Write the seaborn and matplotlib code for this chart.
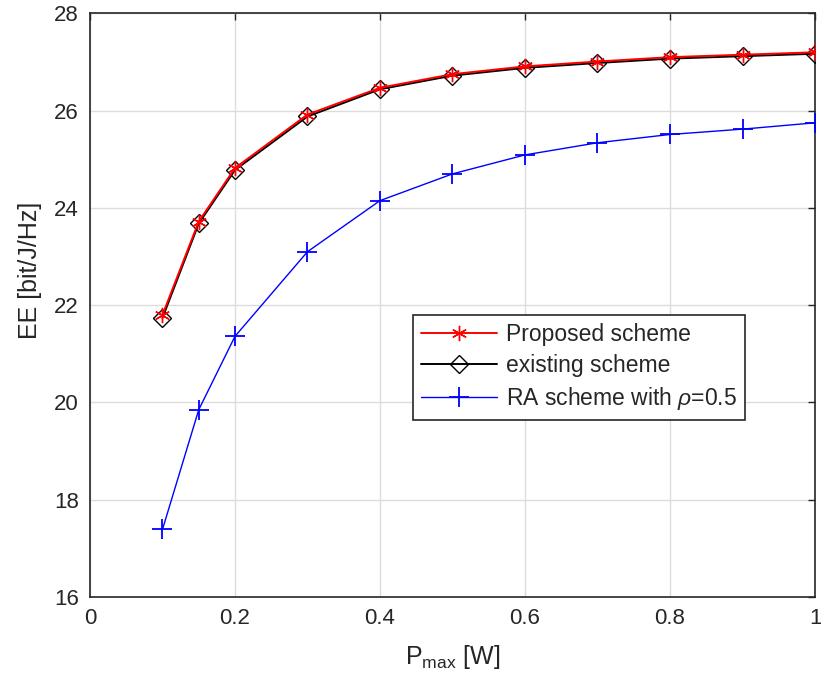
import matplotlib
matplotlib.use("Agg")
import matplotlib.pyplot as plt
import seaborn as sns

# transmit power budget [W]
p_max = [0.1, 0.15, 0.2, 0.3, 0.4, 0.5, 0.6, 0.7, 0.8, 0.9, 1.0]

# energy efficiency [bit/J/Hz]
ee_proposed = [21.80, 23.72, 24.82, 25.92, 26.47, 26.75, 26.91, 27.01, 27.10, 27.15, 27.20]
ee_existing = [21.74, 23.68, 24.78, 25.88, 26.44, 26.72, 26.88, 26.98, 27.07, 27.12, 27.17]
ee_ra = [17.39, 19.85, 21.36, 23.10, 24.15, 24.70, 25.09, 25.34, 25.51, 25.62, 25.75]

sns.set_style("white")
plt.rcParams['font.family'] = ['Liberation Sans', 'DejaVu Sans']
plt.rcParams['mathtext.fontset'] = 'custom'
plt.rcParams['mathtext.rm'] = 'Liberation Sans'
plt.rcParams['mathtext.it'] = 'Liberation Sans:italic'

fig = plt.figure(figsize=(8.21, 6.86), dpi=100)
ax = fig.add_axes([0.1096, 0.1297, 0.8831, 0.8508])

sns.lineplot(x=p_max, y=ee_existing, ax=ax, color='black', lw=1.4,
             marker='D', markersize=9, markerfacecolor='none',
             markeredgecolor='black', markeredgewidth=1.0,
             label='existing scheme', zorder=3)
sns.lineplot(x=p_max, y=ee_proposed, ax=ax, color='red', lw=1.4,
             marker=(6, 2, 0), markersize=11, markerfacecolor='red',
             markeredgecolor='red', markeredgewidth=1.0,
             label='Proposed scheme', zorder=4)
sns.lineplot(x=p_max, y=ee_ra, ax=ax, color='blue', lw=1.0,
             marker='+', markersize=15, markeredgewidth=1.3,
             markeredgecolor='blue',
             label=r'RA scheme with $\rho$=0.5', zorder=3)

ax.set_xlim(0, 1)
ax.set_ylim(16, 28)
ax.set_xticks([0, 0.2, 0.4, 0.6, 0.8, 1])
ax.set_xticklabels(['0', '0.2', '0.4', '0.6', '0.8', '1'])
ax.set_yticks(range(16, 29, 2))

ax.grid(True, color='#dcdcdc', lw=1.0)
ax.set_axisbelow(True)
for s in ax.spines.values():
    s.set_color('#262626')
    s.set_linewidth(1.2)
ax.tick_params(direction='in', top=True, right=True, length=5, width=1,
               color='#262626', labelsize=16, labelcolor='#262626', pad=8)

ax.set_xlabel(r'P$_{\mathrm{max}}$ [W]', fontsize=18, color='#262626', labelpad=10)
ax.set_ylabel('EE [bit/J/Hz]', fontsize=18, color='#262626', labelpad=10)
ax.yaxis.set_label_coords(-0.066, 0.56)

handles, labels = ax.get_legend_handles_labels()
order = [1, 0, 2]
leg = ax.legend([handles[i] for i in order], [labels[i] for i in order],
                loc='upper left', bbox_to_anchor=(0.4455, 0.4832),
                borderaxespad=0, fontsize=16.5, handlelength=3.3,
                labelspacing=0.35, borderpad=0.35, handletextpad=0.4,
                fancybox=False, framealpha=1, edgecolor='#262626')
leg.get_frame().set_linewidth(1.2)
for t in leg.get_texts():
    t.set_color('#262626')

fig.savefig('out.png', dpi=100)
